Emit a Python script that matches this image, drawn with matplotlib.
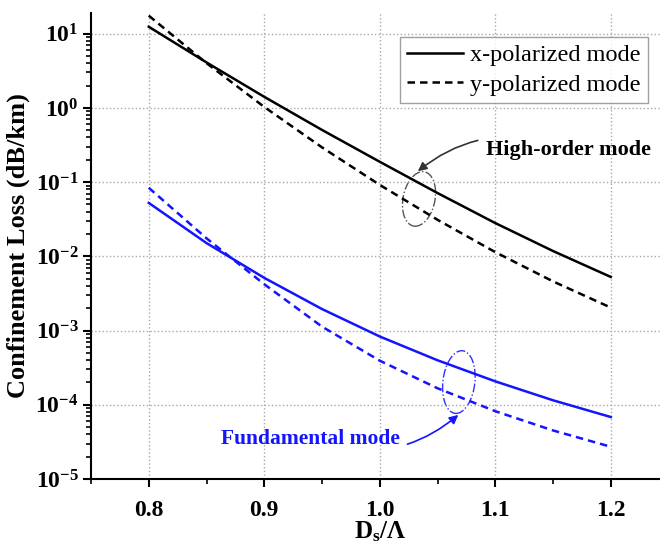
import numpy as np
import matplotlib
matplotlib.use("Agg")
import matplotlib.pyplot as plt
from matplotlib.patches import Ellipse
from matplotlib.ticker import LogLocator, MultipleLocator, FuncFormatter, NullFormatter

plt.rcParams['font.family'] = ['Liberation Serif', 'DejaVu Serif']
plt.rcParams['mathtext.fontset'] = 'custom'
plt.rcParams['mathtext.rm'] = 'Liberation Serif:bold'
plt.rcParams['mathtext.bf'] = 'Liberation Serif:bold'
plt.rcParams['mathtext.it'] = 'Liberation Serif:bold'
plt.rcParams['mathtext.default'] = 'bf'

# Data
ds_ratio = [0.80, 0.85, 0.90, 0.95, 1.00, 1.05, 1.10, 1.15, 1.20]
high_x = [12.4, 4.10, 1.41, 0.505, 0.188, 0.0713, 0.0281, 0.0118, 0.00528]
high_y = [17.5, 4.01, 1.03, 0.294, 0.0918, 0.0311, 0.0114, 0.00460, 0.00204]
fund_x = [0.0525, 0.0151, 0.00513, 0.00195, 0.000832, 0.000398, 0.000207, 0.000115, 0.0000684]
fund_y = [0.0839, 0.0175, 0.00421, 0.00113, 0.000393, 0.000167, 0.0000820, 0.0000451, 0.0000272]
x_ticks = [0.8, 0.9, 1.0, 1.1, 1.2]
x_tick_labels = ['0.8', '0.9', '1.0', '1.1', '1.2']
y_ticks = [1e-5, 1e-4, 1e-3, 1e-2, 1e-1, 1e0, 1e1]

fig = plt.figure(figsize=(6.6, 5.44), dpi=100)
ax = fig.add_axes([91/660, 65/544, 577.5/660, 466/544])

blue = '#1414ff'
ax.plot(ds_ratio, high_x, color='black', lw=1.8, ls='-', label='x-polarized mode')
ax.plot(ds_ratio, high_y, color='black', lw=1.8, ls=(0, (3, 2)), label='y-polarized mode')
ax.plot(ds_ratio, fund_x, color=blue, lw=1.8, ls='-')
ax.plot(ds_ratio, fund_y, color=blue, lw=1.8, ls=(0, (3, 2)))

ax.set_yscale('log')
ax.set_xlim(0.75, 1.25)
ax.set_ylim(1e-5, 19)
ax.set_xticks(x_ticks)
ax.set_xticklabels(x_tick_labels, fontweight='bold')
ax.xaxis.set_minor_locator(MultipleLocator(0.05))
ax.set_yticks(y_ticks)
ax.yaxis.set_minor_locator(LogLocator(base=10, subs=np.arange(2, 10), numticks=20))
ax.yaxis.set_minor_formatter(NullFormatter())
ax.yaxis.set_major_formatter(FuncFormatter(
    lambda v, p: r'$\mathbf{10^{%d}}$' % int(round(np.log10(v)))))

for s in ['top', 'right']:
    ax.spines[s].set_visible(False)
for s in ['left', 'bottom']:
    ax.spines[s].set_linewidth(1.5)

ax.tick_params(axis='both', which='major', direction='out', length=6, width=1.5, labelsize=17)
ax.tick_params(axis='both', which='minor', direction='out', length=3.5, width=1.2)
ax.tick_params(axis='x', which='major', pad=9)
ax.tick_params(axis='y', which='major', pad=3)

ax.grid(True, which='major', ls=':', color='#a8a8a8', lw=1.0)

ax.set_ylabel('Confinement Loss (dB/km)', fontsize=19, fontweight='bold', labelpad=4)
ax.set_xlabel(r'$\mathbf{D_s/\Lambda}$', fontsize=18, labelpad=-1)

leg = ax.legend(loc='upper right', bbox_to_anchor=(557/577.5, 1 - 24/466),
                fontsize=17.5, frameon=True, fancybox=False, edgecolor='#888888',
                handlelength=2.3, labelspacing=0.3, borderpad=0.3, handletextpad=0.3,
                borderaxespad=0)
leg.get_frame().set_linewidth(1.0)

# Annotations
ax.add_patch(Ellipse((0.568, 0.601), 0.0554, 0.118, angle=-8, transform=ax.transAxes,
                     fill=False, ls='-.', lw=1.0, edgecolor='#555555'))
ax.add_patch(Ellipse((0.637, 0.208), 0.0554, 0.135, angle=-5, transform=ax.transAxes,
                     fill=False, ls='-.', lw=1.0, edgecolor='#3030ff'))

ax.annotate('High-order mode', xy=(1.033, 0.14), xytext=(1.092, 0.27),
            fontsize=16, fontweight='bold', color='black', ha='left', va='center',
            arrowprops=dict(arrowstyle='-|>', color='#333333', lw=1.2,
                            connectionstyle='arc3,rad=0.3', shrinkA=4, shrinkB=0,
                            mutation_scale=13))
ax.annotate('Fundamental mode', xy=(1.068, 7.3e-5), xytext=(1.017, 3.5e-5),
            fontsize=15.5, fontweight='bold', color=blue, ha='right', va='center',
            arrowprops=dict(arrowstyle='-|>', color=blue, lw=1.2,
                            connectionstyle='arc3,rad=0.3', shrinkA=4, shrinkB=0,
                            mutation_scale=13))

fig.savefig('out.png', dpi=100)
